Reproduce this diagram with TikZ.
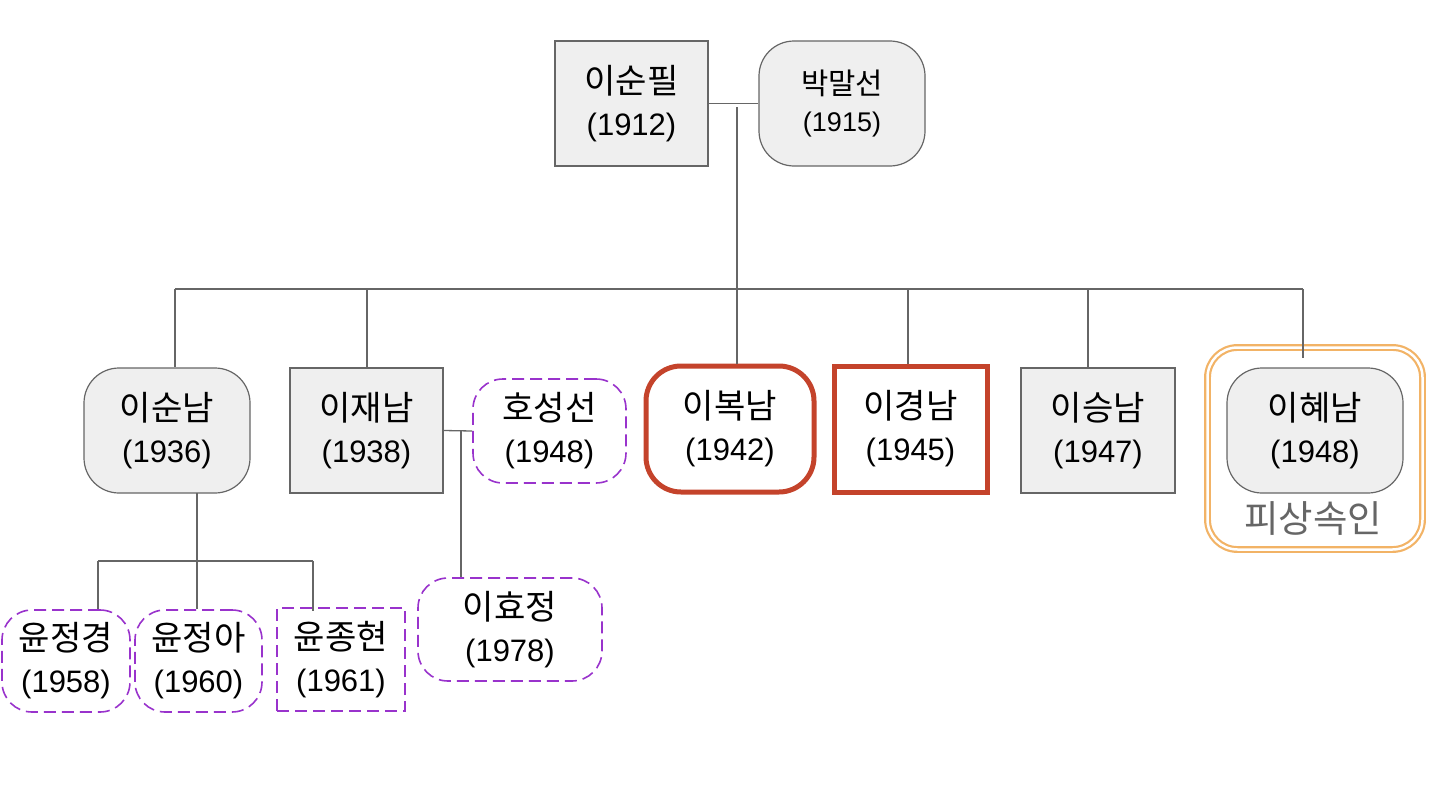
\documentclass[tikz,border=0pt]{standalone}
\usepackage{fontspec}
\setmainfont{Liberation Sans}
\newfontfamily\kr[Scale=1.1]{Noto Sans CJK KR}
\usetikzlibrary{calc}
\definecolor{boxgray}{HTML}{EFEFEF}
\definecolor{edgegray}{HTML}{666666}
\definecolor{linegray}{HTML}{666666}
\definecolor{hotred}{HTML}{C4432B}
\definecolor{dashpurple}{HTML}{9933CC}
\definecolor{heirorange}{HTML}{F2B366}
\definecolor{labelgray}{HTML}{666666}
\tikzset{
  person/.style={draw=edgegray, line width=1.2pt, fill=boxgray, inner sep=0pt, align=center,
    font=\fontsize{31}{42}\selectfont},
  roundp/.style={person, rounded corners=35pt},
  spouse/.style={draw=dashpurple, line width=1.6pt, dash pattern=on 12pt off 6pt, fill=white,
    inner sep=0pt, align=center, font=\fontsize{31}{42}\selectfont},
  roundsp/.style={spouse, rounded corners=30pt},
  redbox/.style={draw=hotred, line width=5pt, fill=white, inner sep=0pt, align=center,
    font=\fontsize{31}{42}\selectfont},
  link/.style={draw=linegray, line width=1.3pt},
}
\begin{document}
\begin{tikzpicture}[x=1pt,y=-1pt]
\useasboundingbox (0,0) rectangle (1434,792);
% top generation
\node[person, minimum width=153pt, minimum height=125pt] (A) at (631.5,103.5) {{\kr 이순필}\\(1912)};
\node[roundp, minimum width=166pt, minimum height=125pt, font=\fontsize{27}{37}\selectfont] (B) at (842,103.5) {{\kr 박말선}\\(1915)};
% children
\node[roundp, minimum width=166pt, minimum height=125pt] (C) at (167,430.5) {{\kr 이순남}\\(1936)};
\node[person, minimum width=153pt, minimum height=125pt] (D) at (366.5,430.5) {{\kr 이재남}\\(1938)};
\node[roundsp, minimum width=153pt, minimum height=104pt] (E) at (549.5,431) {{\kr 호성선}\\(1948)};
\node[redbox, rounded corners=35pt, minimum width=168pt, minimum height=126pt] (F) at (730,429) {{\kr 이복남}\\(1942)};
\node[redbox, minimum width=153pt, minimum height=126pt] (G) at (910.5,429) {{\kr 이경남}\\(1945)};
\node[person, minimum width=154pt, minimum height=125pt] (H) at (1098,430.5) {{\kr 이승남}\\(1947)};
\node[draw=heirorange, double=white, double distance=2.5pt, line width=2.2pt, rounded corners=30pt,
  minimum width=215pt, minimum height=202pt] (O) at (1315,448.5) {};
\node[roundp, minimum width=176pt, minimum height=125pt] (I) at (1315,430.5) {{\kr 이혜남}\\(1948)};
\node[text=labelgray, font=\kr\fontsize{34}{40}\selectfont, inner sep=0pt] (L1) at (1313,518) {피상속인};
% grandchildren
\node[roundsp, minimum width=184pt, minimum height=103pt] (J) at (510,629.5) {{\kr 이효정}\\(1978)};
\node[roundsp, minimum width=128pt, minimum height=102pt] (K) at (66,661) {{\kr 윤정경}\\(1958)};
\node[roundsp, minimum width=127pt, minimum height=102pt] (L) at (198.5,661) {{\kr 윤정아}\\(1960)};
\node[spouse, minimum width=128pt, minimum height=103pt] (M) at (341,659.5) {{\kr 윤종현}\\(1961)};
% connectors
\coordinate (m0) at (737,107);
\coordinate (m1) at (737,289);
\coordinate (b1) at (175,289);
\coordinate (b2) at (367,289);
\coordinate (b3) at (737,289);
\coordinate (b4) at (908,289);
\coordinate (b5) at (1088,289);
\coordinate (b6) at (1303,289);
\coordinate (b6e) at (1303,358);
\draw[link] (A.east) -- (B.west);
\draw[link] (m0) -- (m1);
\draw[link] (b1) -- (b6);
\draw[link] (b1) -- (b1 |- C.north);
\draw[link] (b2) -- (b2 |- D.north);
\draw[link] (b3) -- (b3 |- F.north);
\draw[link] (b4) -- (b4 |- G.north);
\draw[link] (b5) -- (b5 |- H.north);
\draw[link] (b6) -- (b6e);
\draw[link] (D.east) -- (E.west);
\coordinate (s0) at (461,431);
\draw[link] (s0) -- (s0 |- J.north);
\coordinate (c0) at (197,493);
\coordinate (c1) at (197,561);
\coordinate (g1) at (98,561);
\coordinate (g3) at (313,561);
\draw[link] (c0) -- (c1);
\draw[link] (g1) -- (g3);
\draw[link] (g1) -- (g1 |- K.north);
\draw[link] (c1) -- (c1 |- L.north);
\draw[link] (g3) -- ($(g3 |- M.north)+(0,4)$);
\end{tikzpicture}
\end{document}
